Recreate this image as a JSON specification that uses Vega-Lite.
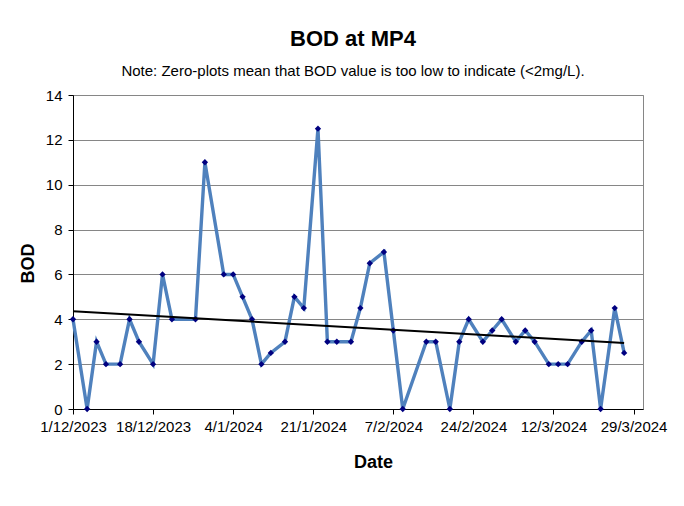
{
  "$schema": "https://vega.github.io/schema/vega-lite/v6.json",
  "autosize": "none",
  "width": 570,
  "height": 314,
  "padding": {"left": 73, "top": 95, "right": 41, "bottom": 97},
  "background": "white",
  "title": {
    "text": "BOD at MP4",
    "subtitle": "Note: Zero-plots mean that BOD value is too low to indicate (<2mg/L).",
    "anchor": "middle",
    "frame": "group",
    "dx": -5,
    "offset": 8,
    "font": "Liberation Sans",
    "fontSize": 22,
    "fontWeight": "bold",
    "color": "black",
    "subtitleFont": "Liberation Sans",
    "subtitleFontSize": 15,
    "subtitleColor": "black",
    "subtitlePadding": 13
  },
  "config": {
    "view": {"stroke": "#868686", "strokeWidth": 1},
    "axis": {
      "labelFont": "Liberation Sans",
      "labelFontSize": 15,
      "labelColor": "black",
      "titleFont": "Liberation Sans",
      "titleFontSize": 18,
      "titleFontWeight": "bold",
      "titleColor": "black",
      "domainColor": "#000000",
      "tickColor": "#000000",
      "tickSize": 5,
      "gridColor": "#868686",
      "gridWidth": 1
    }
  },
  "data": {
    "values": [
      {"Date": "2023-12-01", "BOD": 4},
      {"Date": "2023-12-04", "BOD": 0},
      {"Date": "2023-12-06", "BOD": 3},
      {"Date": "2023-12-08", "BOD": 2},
      {"Date": "2023-12-11", "BOD": 2},
      {"Date": "2023-12-13", "BOD": 4},
      {"Date": "2023-12-15", "BOD": 3},
      {"Date": "2023-12-18", "BOD": 2},
      {"Date": "2023-12-20", "BOD": 6},
      {"Date": "2023-12-22", "BOD": 4},
      {"Date": "2023-12-27", "BOD": 4},
      {"Date": "2023-12-29", "BOD": 11},
      {"Date": "2024-01-02", "BOD": 6},
      {"Date": "2024-01-04", "BOD": 6},
      {"Date": "2024-01-06", "BOD": 5},
      {"Date": "2024-01-08", "BOD": 4},
      {"Date": "2024-01-10", "BOD": 2},
      {"Date": "2024-01-12", "BOD": 2.5},
      {"Date": "2024-01-15", "BOD": 3},
      {"Date": "2024-01-17", "BOD": 5},
      {"Date": "2024-01-19", "BOD": 4.5},
      {"Date": "2024-01-22", "BOD": 12.5},
      {"Date": "2024-01-24", "BOD": 3},
      {"Date": "2024-01-26", "BOD": 3},
      {"Date": "2024-01-29", "BOD": 3},
      {"Date": "2024-01-31", "BOD": 4.5},
      {"Date": "2024-02-02", "BOD": 6.5},
      {"Date": "2024-02-05", "BOD": 7},
      {"Date": "2024-02-07", "BOD": 3.5},
      {"Date": "2024-02-09", "BOD": 0},
      {"Date": "2024-02-14", "BOD": 3},
      {"Date": "2024-02-16", "BOD": 3},
      {"Date": "2024-02-19", "BOD": 0},
      {"Date": "2024-02-21", "BOD": 3},
      {"Date": "2024-02-23", "BOD": 4},
      {"Date": "2024-02-26", "BOD": 3},
      {"Date": "2024-02-28", "BOD": 3.5},
      {"Date": "2024-03-01", "BOD": 4},
      {"Date": "2024-03-04", "BOD": 3},
      {"Date": "2024-03-06", "BOD": 3.5},
      {"Date": "2024-03-08", "BOD": 3},
      {"Date": "2024-03-11", "BOD": 2},
      {"Date": "2024-03-13", "BOD": 2},
      {"Date": "2024-03-15", "BOD": 2},
      {"Date": "2024-03-18", "BOD": 3},
      {"Date": "2024-03-20", "BOD": 3.5},
      {"Date": "2024-03-22", "BOD": 0},
      {"Date": "2024-03-25", "BOD": 4.5},
      {"Date": "2024-03-27", "BOD": 2.5}
    ],
    "format": {"parse": {"Date": "utc:'%Y-%m-%d'"}}
  },
  "encoding": {
    "x": {
      "field": "Date",
      "type": "temporal",
      "scale": {
        "type": "utc",
        "domain": [
          {"year": 2023, "month": 12, "date": 1, "utc": true},
          {"year": 2024, "month": 3, "date": 31, "utc": true}
        ]
      },
      "axis": {
        "title": "Date",
        "titleX": 300,
        "titleY": 53,
        "titleBaseline": "middle",
        "grid": false,
        "labelExpr": "utcFormat(datum.value, '%-d/%-m/%Y')",
        "labelPadding": 5,
        "labelOverlap": false,
        "labelFlush": false,
        "values": [
          {"year": 2023, "month": 12, "date": 1, "utc": true},
          {"year": 2023, "month": 12, "date": 18, "utc": true},
          {"year": 2024, "month": 1, "date": 4, "utc": true},
          {"year": 2024, "month": 1, "date": 21, "utc": true},
          {"year": 2024, "month": 2, "date": 7, "utc": true},
          {"year": 2024, "month": 2, "date": 24, "utc": true},
          {"year": 2024, "month": 3, "date": 12, "utc": true},
          {"year": 2024, "month": 3, "date": 29, "utc": true}
        ]
      }
    },
    "y": {
      "field": "BOD",
      "type": "quantitative",
      "scale": {"domain": [0, 14], "nice": false},
      "axis": {
        "title": "BOD",
        "values": [0, 2, 4, 6, 8, 10, 12, 14],
        "titleX": -45,
        "titleY": 168,
        "titleBaseline": "middle",
        "labelPadding": 6
      }
    }
  },
  "layer": [
    {
      "mark": {"type": "line", "color": "#4F81BD", "strokeWidth": 3.4}
    },
    {
      "mark": {"type": "point", "shape": "diamond", "filled": true, "color": "#000080", "opacity": 1, "size": 40}
    },
    {
      "transform": [{"regression": "BOD", "on": "Date", "method": "linear"}],
      "mark": {"type": "line", "color": "black", "strokeWidth": 2}
    }
  ]
}
